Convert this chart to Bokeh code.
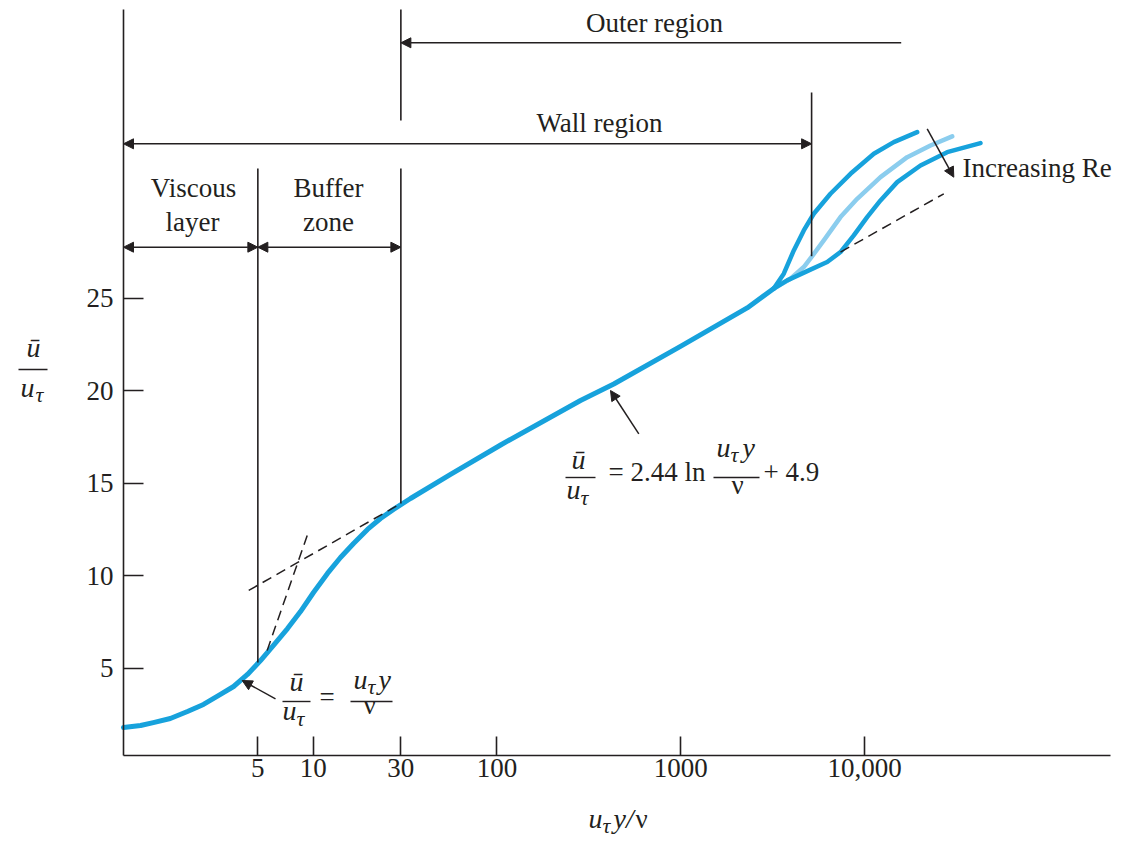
import math
from bokeh.plotting import figure
from bokeh.models import Label, Arrow, NormalHead, FixedTicker, Range1d
from bokeh.embed import file_html
from bokeh.resources import INLINE

# ---------------- data ----------------
# common velocity profile u+ vs y+ (log x axis)
y_plus_main = [0.929, 1.15, 1.35, 1.67, 2.07, 2.53, 3.13, 3.69, 4.39, 5.17, 6.08,
               7.25, 8.53, 10.04, 11.96, 14.08, 16.58, 19.75, 23.25, 27.35, 33.84,
               55.9, 105.8, 284.7, 432.1, 996.6, 2298, 3207]
u_plus_main = [1.79, 1.90, 2.06, 2.28, 2.66, 3.04, 3.58, 4.01, 4.66, 5.41, 6.23,
               7.14, 8.06, 9.09, 10.12, 10.98, 11.74, 12.50, 13.09, 13.58, 14.17,
               15.47, 17.09, 19.47, 20.36, 22.39, 24.47, 25.52]

# outer-region branches (increasing Re)
y_plus_re1 = [3207, 3635, 4120, 4670, 5292, 6523, 8385, 11230, 14420, 19330]
u_plus_re1 = [25.52, 26.32, 27.58, 28.66, 29.56, 30.64, 31.72, 32.80, 33.43, 33.97]
y_plus_re2 = [3207, 3953, 4670, 5188, 6000, 7396, 9117, 12210, 17060, 22840, 29980]
u_plus_re2 = [25.52, 26.05, 26.68, 27.27, 28.12, 29.38, 30.37, 31.54, 32.62, 33.25, 33.74]
y_plus_re3 = [3207, 3793, 4874, 6261, 7396, 8737, 10330, 12210, 15050, 20150, 28150, 42730]
u_plus_re3 = [25.52, 25.96, 26.46, 26.95, 27.49, 28.39, 29.38, 30.28, 31.27, 32.17, 32.89, 33.38]

# dashed asymptotes
y_plus_log_hi = [7396, 26980]
u_plus_log_hi = [27.49, 30.64]
y_plus_log_lo = [4.46, 30]
u_plus_log_lo = [9.20, 13.9]
y_plus_lin = [5.62, 9.28]
u_plus_lin = [5.96, 12.17]

# region boundaries
y_viscous = 5
y_buffer = 30
y_wall = 5150

x_ticks = [5, 10, 30, 100, 1000, 10000]
x_tick_labels = ["5", "10", "30", "100", "1000", "10,000"]
y_ticks = [5, 10, 15, 20, 25]

# ---------------- layout ----------------
W, H = 1120, 843
AX_X0, AX_X1 = 0.929, 217800.0      # extent of the x axis line
AX_Y0, AX_Y1 = 0.28, 40.6           # extent of the y axis line
AXL, AXR, AXT, AXB = 123, 1110, 9, 755   # pixel position of those ends
PXD = (AXR - AXL) / math.log10(AX_X1 / AX_X0)
PXU = (AXB - AXT) / (AX_Y1 - AX_Y0)
XL = AX_X0 * 10 ** (-AXL / PXD)
XR = AX_X0 * 10 ** ((W - AXL) / PXD)
YT = AX_Y1 + AXT / PXU
YB = AX_Y0 - (H - AXB) / PXU


def dx(px):
    return AX_X0 * 10 ** ((px - AXL) / PXD)


def dy(py):
    return AX_Y0 + (AXB - py) / PXU


INK = "#231f20"
BLUE = "#17a2dc"
LIGHT = "#8bcdee"
SERIF = "Liberation Serif"
FS = 27
MFS = 28     # math italics
SFS = 22     # subscript

p = figure(width=W, height=H, x_axis_type="log",
           x_range=Range1d(XL, XR), y_range=Range1d(YB, YT),
           output_backend="svg", toolbar_location=None, title=None,
           min_border_left=0, min_border_right=0,
           min_border_top=0, min_border_bottom=0)
p.grid.visible = False
p.outline_line_color = None
p.background_fill_color = "white"
p.border_fill_color = "white"

xa = p.xaxis[0]
ya = p.yaxis[0]
xa.fixed_location = AX_Y0
ya.fixed_location = AX_X0
xa.bounds = (AX_X0, AX_X1)
ya.bounds = (AX_Y0, AX_Y1)
for ax in (xa, ya):
    ax.axis_line_color = INK
    ax.axis_line_width = 1.6
    ax.major_tick_line_color = INK
    ax.major_tick_line_width = 1.6
    ax.minor_tick_line_color = None
    ax.major_tick_out = 0
    ax.major_label_text_font = SERIF
    ax.major_label_text_font_size = f"{FS}px"
    ax.major_label_text_color = INK
xa.major_tick_in = 19
ya.major_tick_in = 20
xa.ticker = FixedTicker(ticks=x_ticks)
xa.major_label_overrides = dict(zip(x_ticks, x_tick_labels))
ya.ticker = FixedTicker(ticks=y_ticks)
xa.major_label_standoff = 3
ya.major_label_standoff = 10


def txt(px, py, s, size=FS, style="normal", align="left"):
    # py is the wanted baseline; shift compensates the renderer's baseline placement
    shift = 11.0 * size / 27.0
    p.add_layout(Label(x=dx(px), y=dy(py - shift), text=s, text_font=SERIF,
                       text_font_size=f"{size}px", text_font_style=style,
                       text_color=INK, text_align=align,
                       text_baseline="alphabetic"))


def mi(px, py, s, align="left"):
    txt(px, py, s, size=MFS, style="italic", align=align)


def sub(px, py, s):
    txt(px, py, s, size=SFS, style="italic")


def head():
    return NormalHead(size=10, fill_color=INK, line_color=INK, line_width=1)


def seg(x0, y0, x1, y1, start=False, end=False, width=1.6):
    p.add_layout(Arrow(x_start=x0, y_start=y0, x_end=x1, y_end=y1,
                       line_color=INK, line_width=width,
                       start=head() if start else None,
                       end=head() if end else None))


# ---------------- curves ----------------
p.line(y_plus_re2, u_plus_re2, line_color=LIGHT, line_width=4.5, line_cap="round",
       line_join="round")
p.line(y_plus_re1, u_plus_re1, line_color=BLUE, line_width=4.5, line_cap="round",
       line_join="round")
p.line(y_plus_re3, u_plus_re3, line_color=BLUE, line_width=4.5, line_cap="round",
       line_join="round")
p.line(y_plus_main, u_plus_main, line_color=BLUE, line_width=5, line_cap="round",
       line_join="round")

for xs, ys in ((y_plus_log_hi, u_plus_log_hi), (y_plus_log_lo, u_plus_log_lo),
               (y_plus_lin, u_plus_lin)):
    p.line(xs, ys, line_color=INK, line_width=1.5, line_dash="10 6")

# ---------------- region lines and arrows ----------------
p.segment(x0=[y_viscous, y_buffer, y_buffer, y_wall],
          y0=[dy(168), AX_Y1, dy(168), dy(92)],
          x1=[y_viscous, y_buffer, y_buffer, y_wall],
          y1=[5.3, dy(120), 13.9, dy(255.7)],
          line_color=INK, line_width=1.6)

seg(dx(900.7), dy(42.3), y_buffer, dy(42.3), end=True)
seg(AX_X0, dy(143.3), y_wall, dy(143.3), start=True, end=True)
seg(AX_X0, dy(246.7), y_viscous, dy(246.7), start=True, end=True)
seg(y_viscous, dy(246.7), y_buffer, dy(246.7), start=True, end=True)

txt(654, 33, "Outer region", align="center")
txt(599, 133, "Wall region", align="center")
txt(193, 198, "Viscous", align="center")
txt(192, 232, "layer", align="center")
txt(328, 198, "Buffer", align="center")
txt(328, 232, "zone", align="center")

# Increasing Re
seg(dx(926.7), dy(128.3), dx(953.3), dy(176.7), end=True, width=1.5)
txt(962, 178, "Increasing Re")

# ---------------- axis titles ----------------
mi(33, 358, "ū", align="center")
seg(dx(18), dy(369), dx(47), dy(369), width=1.4)
mi(20, 398, "u")
sub(35, 403, "τ")

mi(588, 829, "u")
sub(602, 834, "τ")
mi(613, 829, "y/")
txt(635, 829, "ν")

# ---------------- viscous sublayer equation ----------------
seg(dx(275), dy(698.3), dx(241.7), dy(680), end=True, width=1.5)
mi(296, 692, "ū", align="center")
seg(dx(282), dy(701), dx(310), dy(701), width=1.4)
mi(282, 721, "u")
sub(296, 727, "τ")
txt(319, 707.5, "=")
mi(353, 690, "u")
sub(367, 695, "τ")
mi(378, 690, "y")
seg(dx(350), dy(701), dx(392), dy(701), width=1.4)
txt(369, 715, "ν", align="center")

# ---------------- log-law equation ----------------
seg(dx(638.3), dy(433.3), dx(610), dy(390), end=True, width=1.5)
mi(578, 470, "ū", align="center")
seg(dx(565), dy(477), dx(595), dy(477), width=1.4)
mi(566, 500, "u")
sub(580, 506, "τ")
txt(608, 482, "= 2.44 ln")
mi(716, 458, "u")
sub(730, 463, "τ")
mi(742, 458, "y")
seg(dx(713), dy(477), dx(759), dy(477), width=1.4)
txt(737, 495, "ν", align="center")
txt(763, 482, "+ 4.9")

open("out.html", "w").write(file_html(p, INLINE))
